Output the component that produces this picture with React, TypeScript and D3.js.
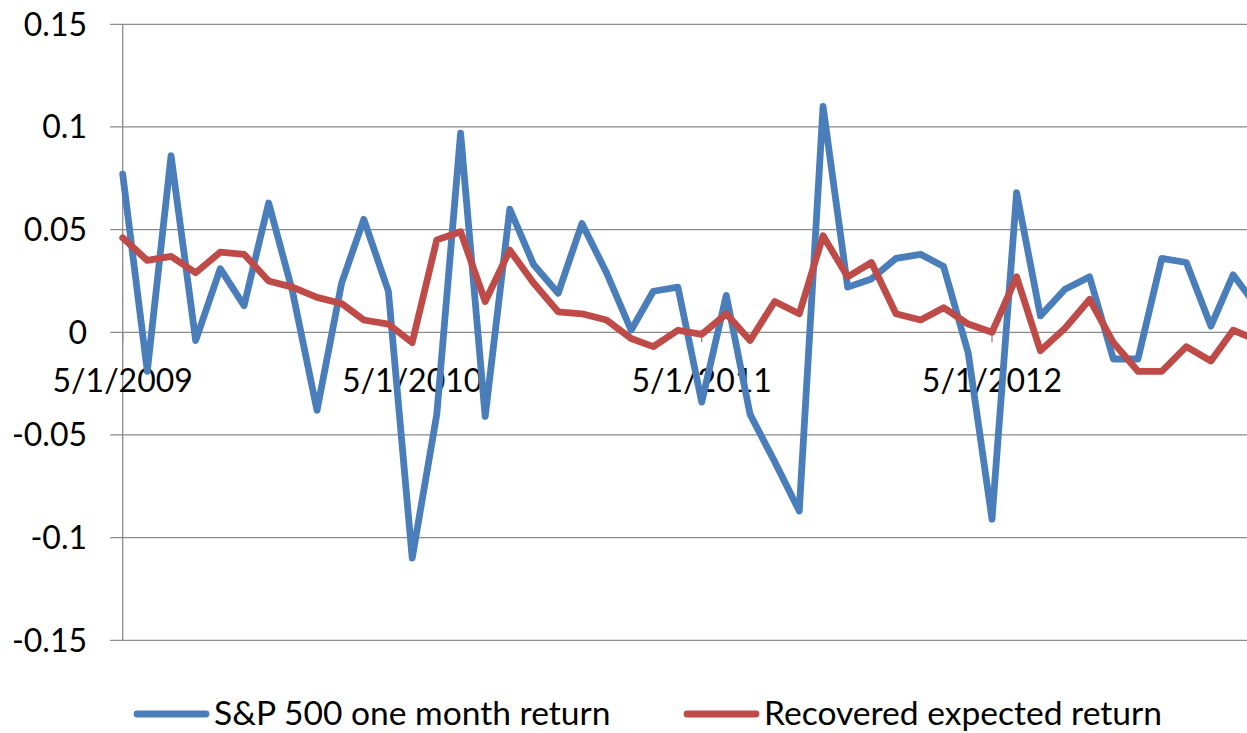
import React from "react";
import * as d3 from "d3";

const W = 1247;
const H = 733;

// Monthly observations starting May 2009
const startMonth = "5/1/2009";
const sp500Return = [
  0.077, -0.019, 0.086, -0.004, 0.031, 0.013, 0.063, 0.020, -0.038, 0.024, 0.055, 0.020,
  -0.110, -0.040, 0.097, -0.041, 0.060, 0.033, 0.019, 0.053, 0.029, 0.001, 0.020, 0.022,
  -0.034, 0.018, -0.040, -0.063, -0.087, 0.110, 0.022, 0.026, 0.036, 0.038, 0.032, -0.010,
  -0.091, 0.068, 0.008, 0.021, 0.027, -0.013, -0.013, 0.036, 0.034, 0.003, 0.028, 0.012,
];
const recoveredReturn = [
  0.046, 0.035, 0.037, 0.029, 0.039, 0.038, 0.025, 0.022, 0.017, 0.014, 0.006, 0.004,
  -0.005, 0.045, 0.049, 0.015, 0.040, 0.024, 0.010, 0.009, 0.006, -0.003, -0.007, 0.001,
  -0.001, 0.009, -0.004, 0.015, 0.009, 0.047, 0.027, 0.034, 0.009, 0.006, 0.012, 0.004,
  0.000, 0.027, -0.009, 0.002, 0.016, -0.005, -0.019, -0.019, -0.007, -0.014, 0.001, -0.004,
];
const xTickLabels = ["5/1/2009", "5/1/2010", "5/1/2011", "5/1/2012"];
const yTicks = [0.15, 0.1, 0.05, 0, -0.05, -0.1, -0.15];
const seriesNames = ["S&P 500 one month return", "Recovered expected return"];
const seriesColors = ["#4A7EBB", "#BE4B48"];

const parse = d3.timeParse("%m/%d/%Y");

export default function App() {
  const start = parse(startMonth) as Date;
  const dates = sp500Return.map((_, i) => d3.timeMonth.offset(start, i));
  const tickDates = xTickLabels.map((s) => parse(s) as Date);

  const plotLeft = 122.7;
  const plotTop = 24.3;
  const plotBottom = 640.3;

  const x = d3
    .scaleTime()
    .domain([tickDates[0], tickDates[tickDates.length - 1]])
    .range([plotLeft, 992]);
  const y = d3.scaleLinear().domain([-0.15, 0.15]).range([plotBottom, plotTop]);

  const line = d3
    .line<number>()
    .x((_, i) => x(dates[i]))
    .y((d) => y(d));

  const font = "Lato, 'Open Sans', sans-serif";
  const grid = "#8a8a8a";
  const fmt = (v: number) => String(+v.toFixed(2));

  return (
    <div style={{ position: "absolute", left: 0, top: 0 }}>
      <svg width={W} height={H} style={{ display: "block", background: "#fff" }}>
        <defs>
          <clipPath id="plotclip">
            <rect x={plotLeft - 10} y={0} width={W - plotLeft + 10} height={H} />
          </clipPath>
        </defs>
        {yTicks.map((t) => (
          <line
            key={"g" + t}
            x1={plotLeft - 12.5}
            x2={W}
            y1={y(t)}
            y2={y(t)}
            stroke={grid}
            strokeWidth={1.3}
          />
        ))}
        <line x1={plotLeft} x2={plotLeft} y1={plotTop} y2={plotBottom} stroke={grid} strokeWidth={1.3} />
        {yTicks.map((t) => (
          <text
            key={"yl" + t}
            x={87}
            y={y(t)}
            dy="0.36em"
            textAnchor="end"
            fontFamily={font}
            fontSize={32}
            fill="#000"
          >
            {fmt(t)}
          </text>
        ))}
        {tickDates.map((d, i) => (
          <line
            key={"xt" + i}
            x1={x(d)}
            x2={x(d)}
            y1={y(0)}
            y2={y(0) + 10}
            stroke={grid}
            strokeWidth={1.3}
          />
        ))}
        {tickDates.map((d, i) => (
          <text
            key={"xl" + i}
            x={x(d)}
            y={392}
            textAnchor="middle"
            fontFamily={font}
            fontSize={32}
            fill="#000"
          >
            {xTickLabels[i]}
          </text>
        ))}
        <g clipPath="url(#plotclip)">
          {[sp500Return, recoveredReturn].map((vals, k) => (
            <path
              key={"s" + k}
              d={line(vals) || ""}
              fill="none"
              stroke={seriesColors[k]}
              strokeWidth={6.8}
              strokeLinejoin="round"
              strokeLinecap="round"
            />
          ))}
        </g>
        {seriesNames.map((name, k) => {
          const lx = k === 0 ? 134 : 684;
          return (
            <g key={"lg" + k}>
              <line
                x1={lx + 3}
                x2={lx + 72}
                y1={714}
                y2={714}
                stroke={seriesColors[k]}
                strokeWidth={6.8}
                strokeLinecap="round"
              />
              <text x={lx + 80} y={725} fontFamily={font} fontSize={33.6} fill="#000">
                {name}
              </text>
            </g>
          );
        })}
      </svg>
    </div>
  );
}
